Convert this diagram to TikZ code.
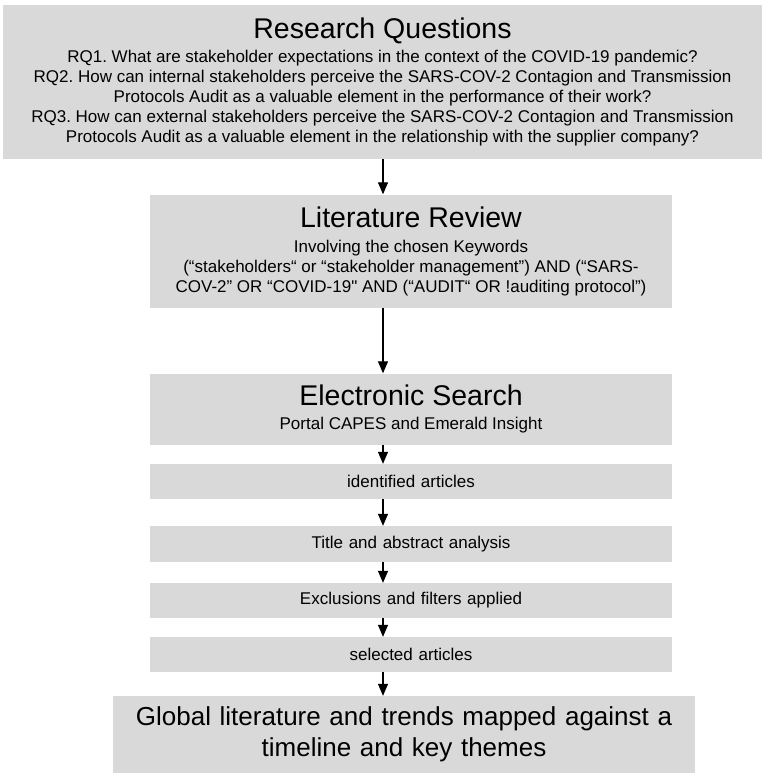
\documentclass[tikz,border=0pt]{standalone}
\usepackage{fontspec}
\setmainfont{Liberation Sans}[Ligatures=TeXOff]
\usetikzlibrary{arrows.meta}
\definecolor{boxgray}{HTML}{D9D9D9}
\newcommand{\rigidsp}{\spaceskip=\fontdimen2\font\xspaceskip=\fontdimen2\font\lineskiplimit=-50pt\relax}
\newcommand{\ttlfont}{\fontsize{28.5}{30}\selectfont\rigidsp}
\newcommand{\txtfont}{\fontsize{17}{20}\selectfont\rigidsp}
\newcommand{\glfont}{\fontsize{26}{31}\selectfont\rigidsp}
\begin{document}
\begin{tikzpicture}[x=1pt,y=-1pt,
  box/.style={fill=boxgray, draw=none, inner sep=0pt, align=center},
  wide/.style={box, text width=522pt},
  arr/.style={line width=1.2pt, -{Triangle[width=10pt,length=12pt]}}]
\useasboundingbox (0,0) rectangle (765,777);
\fill[white] (0,0) rectangle (765,777);
\coordinate (ax) at (383,0);

\node[box, text width=759pt, minimum height=154pt] (rq) at (382.5,82)
 {{\ttlfont Research Questions\par}\vspace{4pt}
  \txtfont RQ1. What are stakeholder expectations in the context of the COVID-19 pandemic?\par
  RQ2. How can internal stakeholders perceive the SARS-COV-2 Contagion and Transmission\par
  Protocols Audit as a valuable element in the performance of their work?\par
  RQ3. How can external stakeholders perceive the SARS-COV-2 Contagion and Transmission\par
  Protocols Audit as a valuable element in the relationship with the supplier company?\par};

\node[wide, minimum height=113pt] (lit) at (411,251)
 {{\ttlfont Literature Review\par}\vspace{5pt}
  \txtfont Involving the chosen Keywords\par
  (“stakeholders“ or “stakeholder management”) AND (“SARS-\par
  COV-2” OR “COVID-19" AND (“AUDIT“ OR !auditing protocol”)\par};

\node[wide, minimum height=71pt] (es) at (411,409)
 {{\ttlfont Electronic Search\par}\vspace{4pt}
  \txtfont Portal CAPES and Emerald Insight\par\vspace{-5pt}};

\node[wide, minimum height=35pt, font=\txtfont] (ia) at (411,481.5) {identified articles};
\node[wide, minimum height=36pt, font=\txtfont] (ta) at (411,544) {Title and abstract analysis};
\node[wide, minimum height=35pt, font=\txtfont] (ex) at (411,600.5) {Exclusions and filters applied};
\node[wide, minimum height=35pt, font=\txtfont] (sa) at (411,654.5) {selected articles};

\node[box, text width=582pt, minimum height=77pt, font=\glfont] (gl) at (404,734.5)
 {Global literature and trends mapped against a\par timeline and key themes\par\vspace{-5pt}};

\draw[arr] (rq.south -| ax) -- (lit.north -| ax);
\draw[arr] (lit.south -| ax) -- (es.north -| ax);
\draw[arr] (es.south -| ax) -- (ia.north -| ax);
\draw[arr] (ia.south -| ax) -- (ta.north -| ax);
\draw[arr] (ta.south -| ax) -- (ex.north -| ax);
\draw[arr] (ex.south -| ax) -- (sa.north -| ax);
\draw[arr] (sa.south -| ax) -- (gl.north -| ax);
\end{tikzpicture}
\end{document}
